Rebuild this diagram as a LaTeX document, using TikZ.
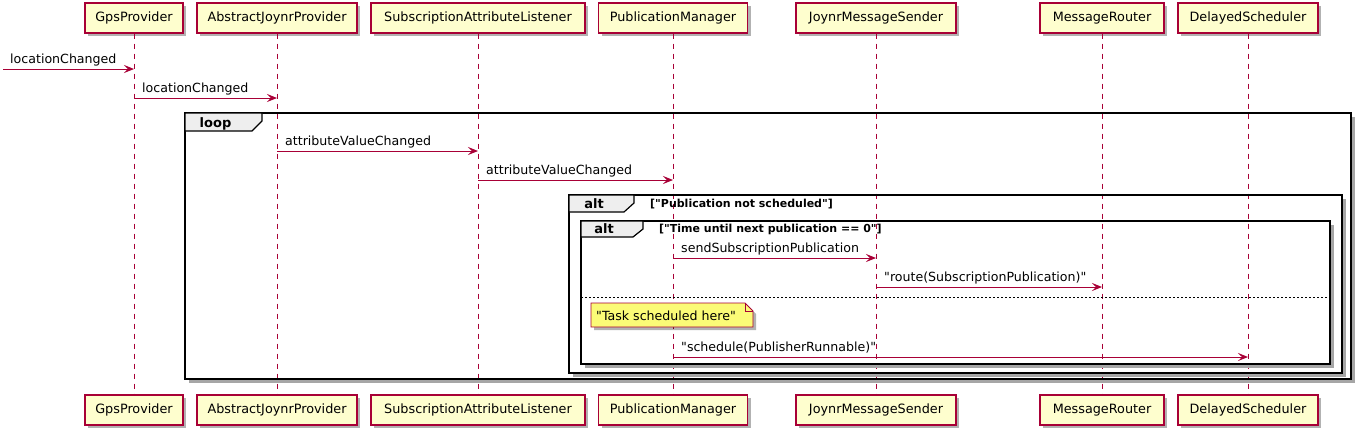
\documentclass[tikz,border=0pt]{standalone}
\usepackage{fontspec}
\setmainfont{DejaVu Sans}[Ligatures=TeXOff]
\usetikzlibrary{arrows.meta,shadows,calc}
\definecolor{pborder}{HTML}{A80036}
\definecolor{pfill}{HTML}{FEFECE}
\definecolor{tabfill}{HTML}{EEEEEE}
\definecolor{notefill}{HTML}{FBFB77}
\newcommand{\dq}{\symbol{34}}
\tikzset{
  part/.style={draw=pborder, fill=pfill, line width=1.2pt, minimum height=30pt, inner sep=0pt,
    font=\fontsize{12.8}{15}\selectfont,
    drop shadow={shadow xshift=3pt,shadow yshift=-3pt,opacity=0.3,fill=black}},
  life/.style={draw=pborder, line width=0.8pt, dash pattern=on 5pt off 5pt},
  msg/.style={draw=pborder, line width=1pt, -{Stealth[length=10pt,width=8pt,inset=4pt]}},
  mlabel/.style={anchor=base west, inner sep=0pt, font=\fontsize{12.6}{15}\selectfont},
  frm/.style={draw=black, line width=1.6pt},
  fshadow/.style={draw=black!35, line width=3pt},
  tabbox/.style={draw=black, line width=1.2pt, fill=tabfill},
  tablabel/.style={anchor=base, inner sep=0pt, font=\fontsize{13}{15}\selectfont\bfseries},
  guard/.style={anchor=base west, inner sep=0pt, font=\fontsize{11}{13}\selectfont\bfseries},
  notetext/.style={anchor=base west, inner sep=0pt, font=\fontsize{12.6}{15}\selectfont},
  notebox/.style={draw=pborder, fill=notefill, line width=0.8pt,
    drop shadow={shadow xshift=3pt,shadow yshift=-3pt,opacity=0.3,fill=black}},
  sep/.style={draw=black, line width=0.8pt, dash pattern=on 2pt off 2pt},
}
\begin{document}
\begin{tikzpicture}[x=1pt,y=-1pt]
\useasboundingbox (0,0) rectangle (1361,437);

% participants top
\node[part, minimum width=98pt]  (gpsT) at (134,18)  {GpsProvider};
\node[part, minimum width=160pt] (ajpT) at (277,18)  {AbstractJoynrProvider};
\node[part, minimum width=214pt] (salT) at (478,18)  {SubscriptionAttributeListener};
\node[part, minimum width=149pt] (pmT)  at (673,18)  {PublicationManager};
\node[part, minimum width=160pt] (jmsT) at (876,18)  {JoynrMessageSender};
\node[part, minimum width=124pt] (mrT)  at (1102,18) {MessageRouter};
\node[part, minimum width=140pt] (dsT)  at (1248,18) {DelayedScheduler};
% participants bottom
\node[part, minimum width=98pt]  (gpsB) at (134,410)  {GpsProvider};
\node[part, minimum width=160pt] (ajpB) at (277,410)  {AbstractJoynrProvider};
\node[part, minimum width=214pt] (salB) at (478,410)  {SubscriptionAttributeListener};
\node[part, minimum width=149pt] (pmB)  at (673,410)  {PublicationManager};
\node[part, minimum width=160pt] (jmsB) at (876,410)  {JoynrMessageSender};
\node[part, minimum width=124pt] (mrB)  at (1102,410) {MessageRouter};
\node[part, minimum width=140pt] (dsB)  at (1248,410) {DelayedScheduler};

% lifelines
\draw[life] (gpsT.south) -- (gpsB.north);
\draw[life] (ajpT.south) -- (ajpB.north);
\draw[life] (salT.south) -- (salB.north);
\draw[life] (pmT.south) -- (pmB.north);
\draw[life] (jmsT.south) -- (jmsB.north);
\draw[life] (mrT.south) -- (mrB.north);
\draw[life] (dsT.south) -- (dsB.north);

% loop frame
\draw[fshadow] (189,381.4) -- (1353.4,381.4) -- (1353.4,117);
\draw[frm] (185,113) rectangle (1351,379);
\draw[tabbox] (185,113) -- (262,113) -- (262,121) -- (252,131) -- (185,131) -- cycle;
\node[tablabel] (looplbl) at (215.5,127) {loop};

% outer alt
\draw[fshadow] (573,375.4) -- (1344.4,375.4) -- (1344.4,199);
\draw[frm] (569,195) rectangle (1342,373);
\draw[tabbox] (569,195) -- (634,195) -- (634,203) -- (624,212) -- (569,212) -- cycle;
\node[tablabel] (alt1lbl) at (594,208) {alt};
\node[guard] (alt1g) at (650,207.5) {[\dq Publication not scheduled\dq]};

% inner alt
\draw[fshadow] (585,366.4) -- (1332.4,366.4) -- (1332.4,225);
\draw[frm] (581,221) rectangle (1330,364);
\draw[tabbox] (581,221) -- (643,221) -- (643,229) -- (633,237) -- (581,237) -- cycle;
\node[tablabel] (alt2lbl) at (604,233) {alt};
\node[guard] (alt2g) at (659,232) {[\dq Time until next publication == 0\dq]};
\draw[sep] (581,297) -- (1330,297);

% messages
\coordinate (start) at (3,69);
\draw[msg] (start) -- (gpsT.south |- start);
\node[mlabel] (l1) at (10,63) {locationChanged};

\draw[msg] (gpsT.south |- 0,98) -- (ajpT.south |- 0,98);
\node[mlabel] (l2) at (142,92) {locationChanged};

\draw[msg] (ajpT.south |- 0,151) -- (salT.south |- 0,151);
\node[mlabel] (l3) at (285,145) {attributeValueChanged};

\draw[msg] (salT.south |- 0,180) -- (pmT.south |- 0,180);
\node[mlabel] (l4) at (486,174) {attributeValueChanged};

\draw[msg] (pmT.south |- 0,258) -- (jmsT.south |- 0,258);
\node[mlabel] (l5) at (681,252) {sendSubscriptionPublication};

\draw[msg] (jmsT.south |- 0,287) -- (mrT.south |- 0,287);
\node[mlabel] (l6) at (884,281) {\dq route(SubscriptionPublication)\dq};

\draw[msg] (pmT.south |- 0,357) -- (dsT.south |- 0,357);
\node[mlabel] (l7) at (681,351) {\dq schedule(PublisherRunnable)\dq};

% note
\path[notebox] (591,303) -- (745,303) -- (753,311) -- (753,327) -- (591,327) -- cycle;
\draw[pborder, line width=0.8pt] (745,303) -- (745,311) -- (753,311);
\node[notetext] (note) at (596,320) {\dq Task scheduled here\dq};
\end{tikzpicture}
\end{document}
